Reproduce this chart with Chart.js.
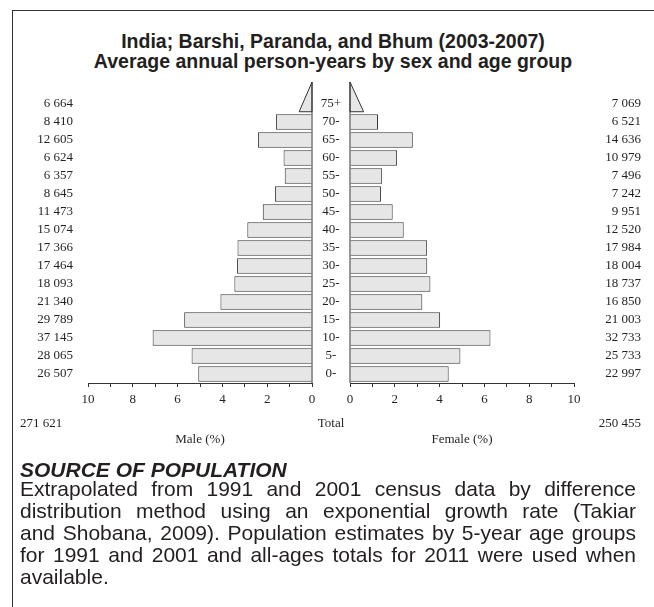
<!DOCTYPE html>
<html>
<head>
<meta charset="utf-8">
<script src="https://cdn.jsdelivr.net/npm/chart.js@4.4.1/dist/chart.umd.min.js"></script>
<style>
  html, body { margin: 0; padding: 0; background: #fff; }
  #page { position: relative; width: 654px; height: 607px; overflow: hidden;
          font-family: "Liberation Sans", Arial, sans-serif; color: #231f20; }
  #frame { position: absolute; left: 12px; top: 10px; width: 660px; height: 620px;
           border-top: 1.5px solid #333; border-left: 1.5px solid #333; }
  canvas { position: absolute; left: 0; top: 0; }
  .title { position: absolute; left: 12px; width: 642px; text-align: center;
           font-weight: bold; font-size: 19.5px; line-height: 20px; }
  .serif { position: absolute; font-family: "Liberation Serif", "Times New Roman", serif;
           font-size: 13px; line-height: 14px; white-space: nowrap; }
  .head { position: absolute; left: 20px; font-weight: bold; font-style: italic;
          font-size: 21px; line-height: 22px; }
  .line { position: absolute; left: 20px; width: 616px; font-size: 21px; line-height: 22px;
          text-align: justify; text-align-last: justify; white-space: nowrap; }
  .line.last { text-align-last: left; }
</style>
</head>
<body>
<div id="page">
  <div id="frame"></div>
  <div class="title" style="top:31px">India; Barshi, Paranda, and Bhum (2003-2007)</div>
  <div class="title" style="top:51px">Average annual person-years by sex and age group</div>
  <canvas id="male" width="654" height="607"></canvas>
  <canvas id="female" width="654" height="607"></canvas>
  <div class="serif" id="maleTotal" style="left:20px;top:416px"></div>
  <div class="serif" style="left:311px;width:40px;text-align:center;top:416px">Total</div>
  <div class="serif" id="femaleTotal" style="right:13px;top:416px"></div>
  <div class="serif" style="left:150px;width:100px;text-align:center;top:432px">Male (%)</div>
  <div class="serif" style="left:412px;width:100px;text-align:center;top:432px">Female (%)</div>
  <div class="head" style="top:459px">SOURCE OF POPULATION</div>
  <div class="line" style="top:478px">Extrapolated from 1991 and 2001 census data by difference</div>
  <div class="line" style="top:500px">distribution method using an exponential growth rate (Takiar</div>
  <div class="line" style="top:522px">and Shobana, 2009). Population estimates by 5-year age groups</div>
  <div class="line" style="top:544px">for 1991 and 2001 and all-ages totals for 2011 were used when</div>
  <div class="line last" style="top:566px">available.</div>
</div>
<script>
// age groups, top to bottom
const ageGroups = ['75+', '70-', '65-', '60-', '55-', '50-', '45-', '40-',
                   '35-', '30-', '25-', '20-', '15-', '10-', '5-', '0-'];
const maleCounts = [6664, 8410, 12605, 6624, 6357, 8645, 11473, 15074,
                    17366, 17464, 18093, 21340, 29789, 37145, 28065, 26507];
const femaleCounts = [7069, 6521, 14636, 10979, 7496, 7242, 9951, 12520,
                      17984, 18004, 18737, 16850, 21003, 32733, 25733, 22997];
const maleTotal = 271621;
const femaleTotal = 250455;
const axisTicks = [0, 2, 4, 6, 8, 10];

const BAR_PCT = 0.86;
const fmt = n => String(n).replace(/\B(?=(\d{3})+(?!\d))/g, ' ');
const grand = maleTotal + femaleTotal;
const malePct = maleCounts.map(c => c / grand * 100);
const femalePct = femaleCounts.map(c => c / grand * 100);

document.getElementById('maleTotal').textContent = fmt(maleTotal);
document.getElementById('femaleTotal').textContent = fmt(femaleTotal);

// open-ended group (75+) drawn as a triangle, plus the zero line
const pyramidExtras = {
  id: 'pyramidExtras',
  afterDatasetsDraw(chart, args, opts) {
    const { ctx, scales: { x, y } } = chart;
    const x0 = x.getPixelForValue(0);
    const half = (y.getPixelForValue(1) - y.getPixelForValue(0)) * BAR_PCT / 2;
    const yc = y.getPixelForValue(0);
    const xb = x.getPixelForValue(opts.values[0] * 0.45);
    ctx.save();
    ctx.strokeStyle = '#333';
    ctx.lineWidth = 1;
    ctx.beginPath();
    ctx.moveTo(x0, yc - 22);
    ctx.lineTo(xb, yc + half);
    ctx.lineTo(x0, yc + half);
    ctx.closePath();
    ctx.fillStyle = '#e6e6e6';
    ctx.fill();
    ctx.stroke();
    ctx.beginPath();
    ctx.moveTo(x0, yc - 22);
    ctx.lineTo(x0, chart.chartArea.bottom);
    ctx.stroke();
    ctx.restore();
  }
};

// counts and age labels, aligned on the bars
const rowLabels = {
  id: 'rowLabels',
  afterDraw(chart) {
    const { ctx, scales: { y } } = chart;
    ctx.save();
    ctx.font = '13px "Liberation Serif", "Times New Roman", serif';
    ctx.fillStyle = '#231f20';
    ctx.textBaseline = 'middle';
    ageGroups.forEach((age, i) => {
      const yy = y.getPixelForValue(i);
      ctx.textAlign = 'right';
      ctx.fillText(fmt(maleCounts[i]), 73, yy);
      ctx.fillText(fmt(femaleCounts[i]), 641, yy);
      ctx.textAlign = 'center';
      ctx.fillText(age, 331, yy);
    });
    ctx.restore();
  }
};

function makeSide(id, values, reverse, padLeft, padRight) {
  return new Chart(document.getElementById(id), {
    type: 'bar',
    data: {
      labels: ageGroups,
      datasets: [{
        data: values.map((v, i) => i === 0 ? null : v),
        backgroundColor: '#e6e6e6',
        borderColor: '#333',
        borderWidth: 1,
        barPercentage: BAR_PCT,
        categoryPercentage: 1
      }]
    },
    options: {
      indexAxis: 'y',
      responsive: false,
      animation: false,
      layout: { padding: { left: padLeft, right: padRight, top: 95, bottom: 194 } },
      plugins: {
        legend: { display: false },
        tooltip: { enabled: false },
        pyramidExtras: { values: values }
      },
      scales: {
        x: {
          reverse: reverse,
          min: 0,
          max: 10,
          afterFit: s => { s.height = 30; },
          ticks: {
            stepSize: 1,
            autoSkip: false,
            maxRotation: 0,
            padding: 5,
            color: '#231f20',
            font: { family: '"Liberation Serif", "Times New Roman", serif', size: 13 },
            callback: v => axisTicks.includes(v) ? v : ''
          },
          grid: { drawOnChartArea: false, tickColor: '#333', tickLength: 4 },
          border: { display: true, color: '#333' }
        },
        y: { display: false }
      }
    },
    plugins: id === 'male' ? [pyramidExtras, rowLabels] : [pyramidExtras]
  });
}

makeSide('male', malePct, true, 88, 342);
makeSide('female', femalePct, false, 350, 80);
</script>
</body>
</html>
